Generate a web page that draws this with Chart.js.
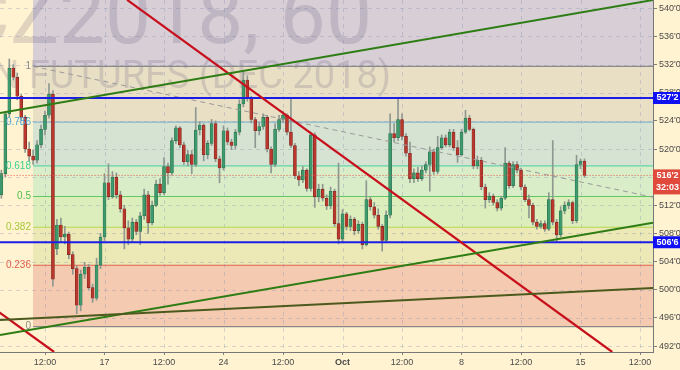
<!DOCTYPE html>
<html><head><meta charset="utf-8">
<script src="https://cdn.jsdelivr.net/npm/chart.js@4/dist/chart.umd.min.js"></script>
<style>
html,body{margin:0;padding:0;background:#fff3d1;}
#wrap{position:relative;width:680px;height:370px;}
</style></head><body>
<div id="wrap"><canvas id="c" width="680" height="370"></canvas></div>
<script>
// ---- data (hourly candles, ZCZ2018) ----
const opens  = [513.5,516.5,525,531.5,530.2,527.5,524.5,520,519,518.4,520.6,522.8,524.8,527.8,505.8,509.2,507.5,507.9,505,503,497.8,502.2,503.2,500.3,498.8,503.5,507.5,515.2,513.2,516,513.5,511.5,508.8,507.2,509.6,508.3,510.5,513.5,509.5,512,515,513.8,517.5,516.6,521.2,523,520.6,518.2,519.2,517.8,522.7,523.4,519.2,520.8,523.6,518.6,517.3,522.6,521,520.5,522.4,526.4,529.8,527.2,524.2,522.6,523.2,524.5,520,517.8,522.8,524.2,524.8,522.4,520.5,516.2,515.6,517,514.4,522,513.2,514.3,513,511.9,514,509.4,507.2,510.8,509,510,508.4,509.3,506.4,512.8,511.8,510.6,509,507,510.6,522.2,521.6,524.2,521.8,519.4,515.8,516.6,515.8,517,517.8,519.6,516.8,520.2,521.6,520.6,522.4,520.2,519.2,522.4,524.4,522.8,517.6,518.4,514.6,512.8,513.3,512.4,511.6,513,518,514.8,517.8,517,514.6,512.8,512,509.6,509,509.4,508.6,512.8,509.6,507.8,511.2,512,512.4,509.8,517.8,518.3];
const highs  = [517,525.3,532.8,532,530.8,527.8,524.8,521,519.8,521.2,523.4,525.4,529.3,528.3,510,510.2,509,508.2,505.4,503.4,502.8,503.9,503.6,500.8,504.5,508,516.5,517.9,516.8,516.6,514,512,509.8,510.2,510,511,514.3,514,512.6,515.6,515.8,518.8,518,521.6,523.3,523.2,521,519.8,519.8,525.9,523.9,523.6,521.2,524.2,524,519,523.3,523,521.4,522.8,527,531,530.4,527.5,524.5,523.8,525,524.8,520.3,523.6,524.8,525.4,525,527.2,520.8,516.8,517.5,517.2,522.4,522.3,515,515,513.5,514.6,514.3,518,511.4,511,510.5,510.3,509.8,509.6,515.5,513.2,512.4,511.5,509.3,511.2,525,523.6,527.3,525,522.2,521,517.2,517.4,517.6,518.2,520.3,520,521.8,522,522,522.8,522.8,521.2,522.8,525.5,524.8,523,519,518.8,515,513.8,513.6,512.8,513.3,520.2,518.3,518.2,518.2,517.3,514.9,513.5,512.3,510,509.8,509.8,513.8,521.2,510,511.8,512.5,512.8,512.6,519.1,518.6,518.6];
const lows   = [513,516,524.6,529.8,527,524,519.5,518.3,517.8,518,520.2,522,524.4,500.5,505,506.8,506.5,504.4,502.2,496.6,497,501.6,500,498.2,498.5,503,507,512.8,513,513,511,505.8,506.4,506.8,507.8,506.4,510,508,509.2,511.8,513.4,513.5,515,516.3,520.8,520.2,517.8,517.6,516.5,517.5,522,518.3,518.6,520.5,518.2,515.2,517,520.6,519.9,520,522,526,526.8,523.7,520.2,522,522.8,519.6,516.6,517.5,522.5,523.8,522,520.2,515.8,514.8,515.2,514,514,511.7,512.5,512.6,511.4,511.5,509,506.5,506.8,508.5,508.4,507.8,508,505.8,506.2,511.3,510.2,508.6,505.5,506.8,510.2,521,521.2,521.3,519,515.2,515.2,515.4,515.5,516.6,514,516.4,516.5,520,520.3,520.3,519.8,518.1,519,522.2,522.6,517.2,517.2,514.2,511.6,512.4,512,511.2,511.3,512.8,514.4,514.5,516.6,514.2,512.5,510.2,509.2,508.6,508.7,508.3,508.4,509.2,506.8,507.5,510.8,511.5,509.4,509.5,517.2,516];
const closes = [516.5,525,531.5,530.2,527.5,524.5,520,519,518.4,520.6,522.8,524.8,527.8,501.5,509.2,507.5,507.9,505,503,497.8,502.2,503.2,500.3,498.8,503.5,507.5,515.2,513.2,516,513.5,511.5,508.8,507.2,509.6,508.3,510.5,513.5,509.5,512,515,513.8,517.5,516.6,521.2,523,520.6,518.2,519.2,517.8,522.7,523.4,519.2,520.8,523.6,518.6,517.3,522.6,521,520.5,522.4,526.4,529.8,527.2,524.2,522.6,523.2,524.5,520,517.8,522.8,524.2,524.8,522.4,520.5,516.2,515.6,517,514.4,522,513.2,514.3,513,511.9,514,509.4,507.2,510.8,509,510,508.4,509.3,506.4,512.8,511.8,510.6,509,507,510.6,522.2,521.6,524.2,521.8,519.4,515.8,516.6,515.8,517,517.8,519.6,516.8,520.2,521.6,520.6,522.4,520.2,519.2,522.4,524.4,522.8,517.6,518.4,514.6,512.8,513.3,512.4,511.6,513,518,514.8,517.8,517,514.6,512.8,512,509.6,509,509.4,508.6,512.8,509.6,507.8,511.2,512,512.4,509.8,517.8,518.3,516.25];
const firstBar = 1;

const xTickBars   = [12,27,42,57,72,87,102,117,132,147,162];
const xTickLabels = ['12:00','17','12:00','24','12:00','Oct','12:00','8','12:00','15','12:00'];
const yTickValues = [492,496,500,504,508,512,516,520,524,528,532,536,540];

const fibHigh = 531.75, fibLow = 494.75, fibStartBar = 8.97;
const fibLevels     = [1.618, 1, 0.786, 0.618, 0.5, 0.382, 0.236, 0];
const fibLabels     = ['', '1', '0.786', '0.618', '0.5', '0.382', '0.236', '0'];
const fibLineColors = ['#9c7fb0','#8a8a8a','#86b6cc','#62d4aa','#62c862','#b6d44c','#e0604e','#8a8a8a'];
const fibTextColors = ['#9c7fb0','#8a8a8a','#4ea6d6','#3ccf95','#4cc14c','#a6c93a','#e0604e','#8a8a8a'];
const fibFillColors = ['#d7ced6','#e9dfc5','#d7e3d2','#daedc9','#ddeebd','#ede9b6','#f4cbb1'];

const blueLevels = [527.25, 506.75];
const lastPrice = 516.25;
const countdown = '32:03';

const trendGreenUpper = [[0.655,525.1],[165.27,541.18]];
const trendGreenLower = [[0.655,493.57],[165.27,509.53]];
const trendOlive      = [[0.655,495.7],[165.27,500.25]];
const trendRed        = [[32.7,541.2],[155.0,491.15]];
const trendRedLower   = [[-3,498.2],[14.3,491.15]];
const fibDiagonal     = [[8.97,531.75],[165.27,513.15]];

const watermarkTitle = 'ZCZ2018, 60';
const watermarkSub = 'CORN FUTURES (DEC 2018)';

// ---- helpers ----
function fmt(v){ const w=Math.floor(v+1e-9); return w+"'"+Math.round((v-w)*8); }
const pts = arr => arr.map(p=>({x:p[0],y:p[1]}));
const FONT = '"Liberation Sans", Arial, sans-serif';
const WM_FONT = 'Roboto, "Liberation Sans", Arial, sans-serif';
Chart.defaults.font.family = FONT;

const wickData = opens.map((o,i)=>({x:firstBar+i, y:[lows[i],highs[i]]}));
const bodyData = opens.map((o,i)=>({x:firstBar+i, y:[o,closes[i]]}));
const up = opens.map((o,i)=>closes[i]>=o);

const datasets = [];
fibLevels.forEach((lv,k)=>{
  const price = fibLow + lv*(fibHigh-fibLow);
  datasets.push({type:'line', data:[{x:fibStartBar,y:price},{x:175,y:price}],
    borderColor:fibLineColors[k], borderWidth:1.2, pointRadius:0, order:100,
    fill: k < fibLevels.length-1 ? '+1' : false,
    backgroundColor: fibFillColors[k] || 'transparent'});
});
datasets.push({type:'bar', data:wickData, backgroundColor:'#8e9891', barThickness:1, grouped:false, order:20, borderWidth:0});
datasets.push({type:'bar', data:bodyData, grouped:false, order:19, barThickness:3, minBarLength:1,
  backgroundColor: up.map(u=>u?'#3d9a6d':'#b9372d'),
  borderColor: up.map(u=>u?'#2a6a4a':'#7a2620'), borderWidth:0.6, borderSkipped:false});
const line = (d,color,w,dash,order)=>({type:'line', data:pts(d), borderColor:color, borderWidth:w,
  borderDash:dash||[], pointRadius:0, fill:false, order:order});
datasets.push(line(fibDiagonal,'#9a9a9a',1,[5,4],6));
datasets.push({type:'line', data:[{x:-5,y:lastPrice},{x:175,y:lastPrice}], borderColor:'#e2534a', borderWidth:1, borderDash:[1,2], pointRadius:0, order:5});
blueLevels.forEach(v=>datasets.push({type:'line', data:[{x:-5,y:v},{x:175,y:v}], borderColor:'#1c1ce8', borderWidth:2, pointRadius:0, order:4}));
datasets.push(line(trendOlive,'#4b5a1c',2,null,3));
datasets.push(line(trendGreenLower,'#2e7d14',2,null,3));
datasets.push(line(trendGreenUpper,'#2e7d14',2,null,3));
datasets.push(line(trendRed,'#c80f1c',2.2,null,3));
datasets.push(line(trendRedLower,'#c80f1c',2.2,null,3));

const overlay = {
  id:'overlay',
  beforeDatasetsDraw(chart){
    const {ctx, chartArea:a, scales:{x,y}} = chart;
    ctx.save();
    ctx.beginPath(); ctx.rect(a.left,a.top,a.right-a.left,a.bottom-a.top); ctx.clip();
    ctx.strokeStyle='rgba(130,140,180,0.32)'; ctx.lineWidth=1; ctx.setLineDash([4,4]);
    xTickBars.forEach(v=>{const px=Math.round(x.getPixelForValue(v))+0.5; ctx.beginPath(); ctx.moveTo(px,a.top); ctx.lineTo(px,a.bottom); ctx.stroke();});
    yTickValues.forEach(v=>{const py=Math.round(y.getPixelForValue(v))+0.5; ctx.beginPath(); ctx.moveTo(a.left,py); ctx.lineTo(a.right,py); ctx.stroke();});
    ctx.setLineDash([]);
    ctx.fillStyle='rgba(90,80,115,0.19)';
    ctx.textAlign='right'; ctx.textBaseline='alphabetic';
    ctx.font='82px '+WM_FONT; ctx.fillText(watermarkTitle,372,43);
    ctx.font='38px '+WM_FONT; ctx.fillText(watermarkSub,391,88);
    ctx.restore();
  },
  afterDatasetsDraw(chart){
    const {ctx, scales:{x,y}} = chart;
    ctx.save();
    ctx.font='10px '+FONT; ctx.textAlign='right'; ctx.textBaseline='middle';
    const px = x.getPixelForValue(fibStartBar)-2;
    fibLevels.forEach((lv,k)=>{ if(!fibLabels[k]) return;
      ctx.fillStyle=fibTextColors[k];
      ctx.fillText(fibLabels[k], px, y.getPixelForValue(fibLow+lv*(fibHigh-fibLow)));});
    ctx.restore();
  },
  afterDraw(chart){
    const {ctx, chartArea:a, scales:{y}} = chart;
    ctx.save();
    ctx.font='bold 9px '+FONT; ctx.textAlign='center'; ctx.textBaseline='middle';
    const w = chart.width - a.right;
    blueLevels.forEach(v=>{
      const py=y.getPixelForValue(v);
      ctx.fillStyle='#1010f5'; ctx.fillRect(a.right,py-6,w,12);
      ctx.fillStyle='#fff'; ctx.fillText(fmt(v), a.right+w/2+1, py);
    });
    const py=y.getPixelForValue(lastPrice);
    ctx.fillStyle='#df4a3d'; ctx.fillRect(a.right,py-6,w,25);
    ctx.fillStyle='#fff';
    ctx.fillText(fmt(lastPrice), a.right+w/2+1, py);
    ctx.fillText(countdown, a.right+w/2+1, py+12.5);
    ctx.restore();
  }
};

const noPad = s => { s.paddingTop=0; s.paddingBottom=0; s.paddingLeft=0; s.paddingRight=0; };

new Chart(document.getElementById('c'), {
  type:'bar',
  data:{datasets},
  options:{
    responsive:false, animation:false, devicePixelRatio:1,
    layout:{padding:0},
    plugins:{legend:{display:false}, tooltip:{enabled:false}, filler:{drawTime:'beforeDatasetsDraw'}},
    scales:{
      x:{type:'linear', min:0.655, max:165.27, offset:false,
        afterBuildTicks:s=>{s.ticks=xTickBars.map(v=>({value:v}));},
        afterFit:s=>{s.height=18; noPad(s);},
        ticks:{autoSkip:false, maxRotation:0, padding:2, color:'#4a4a4a',
          callback:(v,i)=>xTickLabels[i],
          font:c=>({size:9, family:FONT, weight: xTickLabels[c.index]==='Oct'?'bold':'normal'})},
        grid:{drawOnChartArea:false, offset:false, tickLength:3, tickColor:'#808080'},
        border:{color:'#777'}},
      y:{type:'linear', position:'right', min:491.15, max:541.18,
        afterBuildTicks:s=>{s.ticks=yTickValues.map(v=>({value:v}));},
        afterFit:s=>{s.width=27; noPad(s);},
        ticks:{padding:2, color:'#4a4a4a', font:{size:9, family:FONT}, callback:v=>fmt(v)},
        grid:{drawOnChartArea:false, tickLength:4, tickColor:'#808080'},
        border:{color:'#777'}}
    }
  },
  plugins:[overlay]
});
</script>
</body></html>
